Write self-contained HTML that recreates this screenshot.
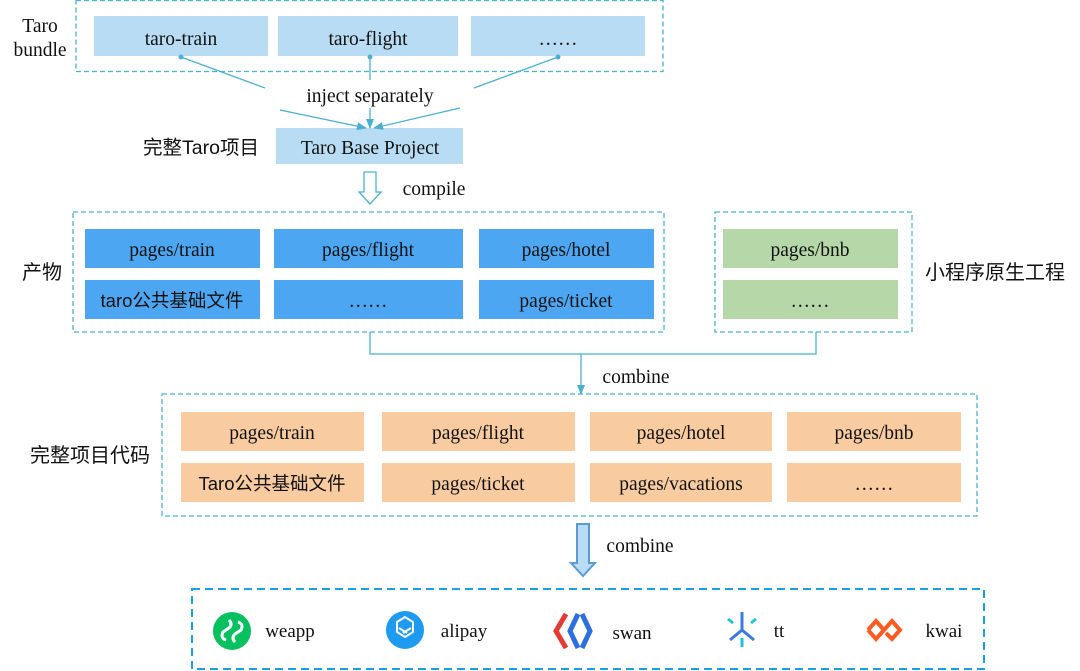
<!DOCTYPE html>
<html><head><meta charset="utf-8"><style>
html,body{margin:0;background:#fff;overflow:hidden;width:1080px;height:671px;}
svg{display:block;}
svg text{font-family:"Liberation Serif","Noto Serif CJK SC",serif;fill:#111;}
.cj{font-family:"Liberation Sans","Noto Sans CJK SC",sans-serif !important;}
</style></head><body>
<svg width="1080" height="671" viewBox="0 0 1080 671" xmlns="http://www.w3.org/2000/svg">
<defs>
<marker id="ah" markerWidth="10" markerHeight="10" refX="9" refY="5" orient="auto" markerUnits="userSpaceOnUse"><path d="M0,1 L10,5 L0,9 Z" fill="#4bb0cf"/></marker>
</defs>
<g fill="none" stroke="#4bb0cf" stroke-width="1.3" stroke-dasharray="5,3">
<rect x="76" y="0.5" width="587" height="71"/>
<rect x="73" y="212" width="591" height="120"/>
<rect x="715" y="212" width="197" height="120"/>
<rect x="162" y="394" width="815" height="122"/>
</g>
<rect x="192" y="589" width="792" height="80" fill="none" stroke="#1aa0e0" stroke-width="2" stroke-dasharray="8,5"/>
<g font-size="19.5" text-anchor="middle">
<rect x="94" y="16" width="174" height="40" fill="#b8dcf3"/><text x="181" y="45">taro-train</text>
<rect x="278" y="16" width="180" height="40" fill="#b8dcf3"/><text x="368" y="45">taro-flight</text>
<rect x="471" y="16" width="174" height="40" fill="#b8dcf3"/><text x="558" y="45">……</text>
<text x="40" y="32">Taro</text><text x="40" y="56">bundle</text>
<rect x="276" y="128" width="187" height="36" fill="#b8dcf3"/><text x="370" y="154">Taro Base Project</text>
<text x="201" y="154" class="cj" font-size="19.5">完整Taro项目</text>
<text x="370" y="102">inject separately</text>
<text x="434" y="195">compile</text>
<g fill="#4da6f2">
<rect x="85" y="229" width="175" height="39"/><rect x="274" y="229" width="189" height="39"/><rect x="479" y="229" width="175" height="39"/>
<rect x="85" y="280" width="175" height="39"/><rect x="274" y="280" width="189" height="39"/><rect x="479" y="280" width="175" height="39"/>
</g>
<text x="172" y="256">pages/train</text><text x="368" y="256">pages/flight</text><text x="566" y="256">pages/hotel</text>
<text x="172" y="307" class="cj" font-size="18.5">taro公共基础文件</text><text x="368" y="307">……</text><text x="566" y="307">pages/ticket</text>
<text x="42" y="279" class="cj" font-size="20">产物</text>
<rect x="723" y="229" width="175" height="39" fill="#b6d7a8"/><rect x="723" y="280" width="175" height="39" fill="#b6d7a8"/>
<text x="810" y="256">pages/bnb</text><text x="810" y="307">……</text>
<text x="995" y="279" class="cj" font-size="20">小程序原生工程</text>
<text x="636" y="383">combine</text>
<g fill="#f8cba0">
<rect x="181" y="412" width="183" height="39"/><rect x="382" y="412" width="193" height="39"/><rect x="590" y="412" width="182" height="39"/><rect x="787" y="412" width="174" height="39"/>
<rect x="181" y="463" width="183" height="39"/><rect x="382" y="463" width="193" height="39"/><rect x="590" y="463" width="182" height="39"/><rect x="787" y="463" width="174" height="39"/>
</g>
<text x="272" y="439">pages/train</text><text x="478" y="439">pages/flight</text><text x="681" y="439">pages/hotel</text><text x="874" y="439">pages/bnb</text>
<text x="272" y="490" class="cj" font-size="18.5">Taro公共基础文件</text><text x="478" y="490">pages/ticket</text><text x="681" y="490">pages/vacations</text><text x="874" y="490">……</text>
<text x="90" y="462" class="cj" font-size="20">完整项目代码</text>
<text x="640" y="552">combine</text>
</g>
<g stroke="#4bb0cf" stroke-width="1.3" fill="none">
<line x1="181" y1="57" x2="265" y2="88"/><line x1="370" y1="57" x2="370" y2="80"/><line x1="558" y1="57" x2="474" y2="88"/>
<line x1="280" y1="110" x2="366" y2="128" marker-end="url(#ah)"/><line x1="370" y1="108" x2="370" y2="128" marker-end="url(#ah)"/><line x1="460" y1="108" x2="374" y2="128" marker-end="url(#ah)"/>
<path d="M370,332 V354 H816 V332"/>
<line x1="581" y1="354" x2="581" y2="394" marker-end="url(#ah)"/>
<path d="M364,172 H376 V192 H381 L370,204 L359,192 H364 Z"/>
</g>
<g fill="#4bb0cf"><circle cx="181" cy="57" r="2.5"/><circle cx="370" cy="57" r="2.5"/><circle cx="558" cy="57" r="2.5"/></g>
<path d="M577,524 H589 V563 H595 L583,576 L571,563 H577 Z" fill="#b8dcf3" stroke="#5b9bd5" stroke-width="2"/>
<circle cx="232" cy="631" r="19" fill="#07c160"/>
<path d="M226,640 q-6,-2 -3,-8 l6,-4 q4,-4 0,-8 M238,622 q6,2 3,8 l-6,4 q-4,4 0,8" stroke="#fff" stroke-width="3" fill="none"/>
<text x="290" y="637" font-size="19" text-anchor="middle">weapp</text>
<circle cx="405" cy="630" r="19" fill="#1e9bf0"/>
<path d="M397,622 l8,-5 8,5 v10 l-8,5 -8,-5 Z M399,628 l8,5 M411,628 l-8,5" stroke="#fff" stroke-width="2" fill="none"/>
<text x="464" y="637" font-size="19" text-anchor="middle">alipay</text>
<path d="M566,614 L556,631 L566,648" stroke="#e53935" stroke-width="5" fill="none"/>
<path d="M578,614 L570,631 L578,648 M582,614 L590,631 L582,648" stroke="#2d6fe0" stroke-width="5" fill="none"/>
<text x="632" y="639" font-size="19" text-anchor="middle">swan</text>
<path d="M742,612 V630 M742,630 L730,640 M742,630 L754,640" stroke="#3a7be0" stroke-width="3" fill="none"/>
<path d="M728,619 l5,4 M756,619 l-5,4 M742,638 v9" stroke="#1cc6d6" stroke-width="3" fill="none"/>
<text x="779" y="637" font-size="19" text-anchor="middle">tt</text>
<path d="M868,630 l8,-9 8,9 8,-9 8,9 -8,9 -6,-6 M884,630 l-8,9 -8,-9" stroke="#ff5a1f" stroke-width="4" fill="none"/>
<text x="944" y="637" font-size="19" text-anchor="middle">kwai</text>
</svg>
</body></html>
